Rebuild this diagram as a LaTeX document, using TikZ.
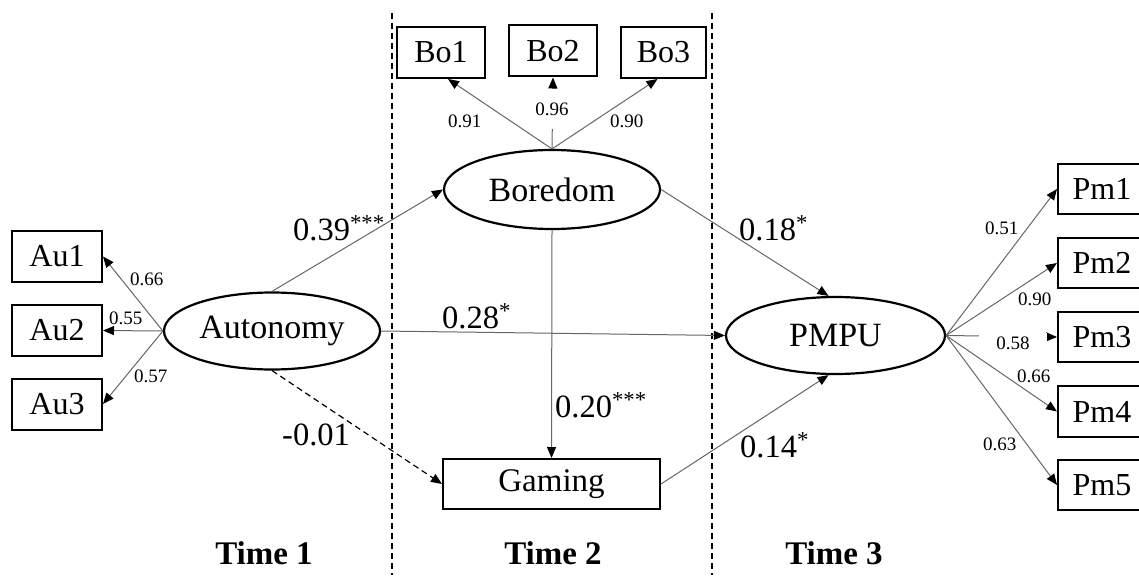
\documentclass[tikz,border=0pt]{standalone}
\usepackage{fontspec}
\setmainfont{Liberation Serif}
\usetikzlibrary{arrows.meta,shapes.geometric}
\begin{document}
\begin{tikzpicture}[x=1pt,y=-1pt,
  lat/.style={draw,ellipse,line width=2.2pt,minimum width=216pt,minimum height=77pt,inner sep=0pt,font=\fontsize{34}{40}\selectfont},
  obs/.style={draw,rectangle,line width=2pt,minimum width=90pt,minimum height=51pt,inner sep=0pt,font=\fontsize{32}{38}\selectfont},
  conn/.style={draw=black!60,line width=1pt,-{Triangle[length=11pt,width=9pt,color=black]}},
  dconn/.style={draw=black,line width=1.2pt,dash pattern=on 6pt off 4pt,-{Triangle[length=11pt,width=9pt,color=black]}},
  biglbl/.style={anchor=base west,inner sep=0pt,font=\fontsize{32.5}{38}\selectfont},
  smalllbl/.style={anchor=base west,inner sep=0pt,font=\fontsize{19}{23}\selectfont},
  timelbl/.style={font=\fontsize{33}{38}\selectfont\bfseries},
  divider/.style={draw=black,line width=1.4pt,dash pattern=on 6pt off 4pt}
]
\useasboundingbox (0,0) rectangle (1139,575);

% dividers
\coordinate (d1t) at (392,13); \coordinate (d1b) at (392,575);
\coordinate (d2t) at (712,13); \coordinate (d2b) at (712,575);
\draw[divider] (d1t) -- (d1b);
\draw[divider] (d2t) -- (d2b);

% indicators
\node[obs] (au1) at (57,256.5) {Au1};
\node[obs] (au2) at (57,330.5) {Au2};
\node[obs] (au3) at (57,404) {Au3};
\node[obs,minimum width=88pt] (bo1) at (441,52.5) {Bo1};
\node[obs,minimum width=88pt] (bo2) at (553,51) {Bo2};
\node[obs,minimum width=85pt] (bo3) at (663.5,52.5) {Bo3};
\node[obs,minimum width=88pt,minimum height=50pt] (pm1) at (1102,189) {Pm1};
\node[obs,minimum width=88pt,minimum height=50pt] (pm2) at (1102,263) {Pm2};
\node[obs,minimum width=88pt,minimum height=50pt] (pm3) at (1102,337) {Pm3};
\node[obs,minimum width=88pt,minimum height=51pt] (pm4) at (1102,411.5) {Pm4};
\node[obs,minimum width=88pt,minimum height=50pt] (pm5) at (1102,485) {Pm5};

% latent / main
\node[lat] (aut) at (272,331) {Autonomy};
\node[lat,minimum height=79pt] (bor) at (552,189.5) {Boredom};
\node[lat,minimum width=219pt] (pmpu) at (835.5,335.5) {PMPU};
\node[obs,minimum width=217pt,minimum height=50pt,font=\fontsize{33}{38}\selectfont] (gam) at (551.5,484) {Gaming};

% loadings
\draw[conn] (aut.west) -- (au1.east);
\draw[conn] (aut.west) -- (au2.east);
\draw[conn] (aut.west) -- (au3.east);
\draw[conn] (bor.north) -- ([xshift=7pt]bo1.south);
\draw[conn] (bor.north) -- (bo2.south);
\draw[conn] (bor.north) -- ([xshift=-6pt]bo3.south);
\draw[conn] (pmpu.east) -- (pm1.west);
\draw[conn] (pmpu.east) -- (pm2.west);
\draw[conn] (pmpu.east) -- (pm3.west);
\draw[conn] (pmpu.east) -- (pm4.west);
\draw[conn] (pmpu.east) -- (pm5.west);

% structural paths
\draw[conn] (aut.north) -- (bor.west);
\draw[conn] (aut.east) -- (pmpu.west);
\draw[dconn] (aut.south) -- (gam.west);
\draw[conn] (bor.south) -- (gam.north);
\draw[conn] (bor.east) -- ([xshift=-7pt]pmpu.north);
\draw[conn] (gam.east) -- ([xshift=-7pt]pmpu.south);

% small labels
\node[smalllbl] (l66a) at (130,285) {0.66};
\node[smalllbl] (l55) at (109,324) {0.55};
\node[smalllbl] (l57) at (134,382) {0.57};
\node[smalllbl] (l91) at (448,128) {0.91};
\node[smalllbl,anchor=base,fill=white,minimum height=40pt,inner sep=2pt] (l96) at (552,115) {0.96};
\node[smalllbl] (l90a) at (610,128) {0.90};
\node[smalllbl] (l51) at (985,234) {0.51};
\node[smalllbl] (l90b) at (1018,305) {0.90};
\node[smalllbl,anchor=base,fill=white,minimum width=68pt,inner sep=3pt] (l58) at (1013,349) {0.58};
\node[smalllbl] (l66b) at (1017,382) {0.66};
\node[smalllbl] (l63) at (983,450) {0.63};

% path coefficients
\node[biglbl] (c39) at (293,240) {0.39\textsuperscript{***}};
\node[biglbl] (c28) at (442,328) {0.28\textsuperscript{*}};
\node[biglbl] (c18) at (739,240) {0.18\textsuperscript{*}};
\node[biglbl] (c20) at (555,417) {0.20\textsuperscript{***}};
\node[biglbl] (c14) at (740,457) {0.14\textsuperscript{*}};
\node[biglbl] (c01) at (282,445) {-0.01};

% time labels
\node[timelbl] (t1) at (264,553) {Time 1};
\node[timelbl] (t2) at (553,553) {Time 2};
\node[timelbl] (t3) at (834,553) {Time 3};
\end{tikzpicture}
\end{document}
